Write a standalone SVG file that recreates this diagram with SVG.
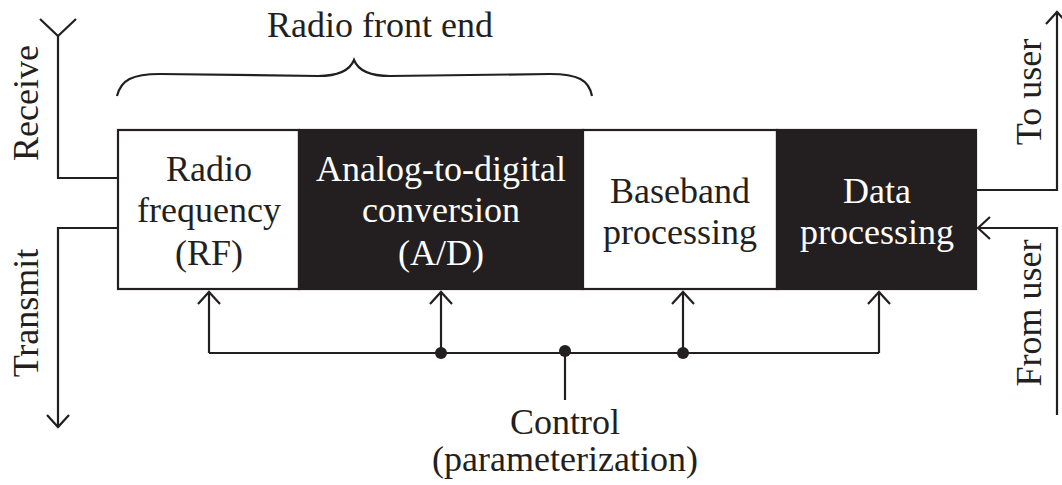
<svg xmlns="http://www.w3.org/2000/svg" width="1062" height="485" viewBox="0 0 1062 485">
<style>
text{font-family:"Liberation Serif","Times New Roman",serif;font-size:36px;fill:#231f20;text-anchor:middle}
.w{fill:#ffffff}
.ln{fill:none;stroke:#231f20;stroke-width:2.2}
</style>
<defs>
<marker id="arr" markerWidth="26" markerHeight="26" refX="13" refY="13" orient="auto" markerUnits="userSpaceOnUse" viewBox="0 0 26 26">
<path d="M1,2 L13,13 L1,24" fill="none" stroke="#231f20" stroke-width="2.2"/>
</marker>
</defs>
<rect width="1062" height="485" fill="#ffffff"/>

<g id="brace">
<path class="ln" d="M117,96 C121,80 132,74 160,74 L318,76 C338,76 350,70 354,60 C358,70 370,76 390,76 L550,74 C578,74 589,80 592,96"/>
<text x="380" y="37">Radio front end</text>
</g>

<g id="rf">
<rect x="118" y="130" width="181" height="159" fill="#ffffff" stroke="#231f20" stroke-width="2.2"/>
<text x="209" y="181">Radio</text>
<text x="209" y="222">frequency</text>
<text x="209" y="265">(RF)</text>
</g>
<g id="ad">
<rect x="299" y="130" width="284" height="159" fill="#231f20" stroke="#231f20" stroke-width="2.2"/>
<text class="w" x="441" y="181">Analog-to-digital</text>
<text class="w" x="441" y="222">conversion</text>
<text class="w" x="441" y="265">(A/D)</text>
</g>
<g id="bb">
<rect x="583" y="130" width="194" height="159" fill="#ffffff" stroke="#231f20" stroke-width="2.2"/>
<text x="680" y="203">Baseband</text>
<text x="680" y="244">processing</text>
</g>
<g id="dp">
<rect x="777" y="130" width="199" height="159" fill="#231f20" stroke="#231f20" stroke-width="2.2"/>
<text class="w" x="877" y="203">Data</text>
<text class="w" x="877" y="244">processing</text>
</g>

<g id="connectors">
<path class="ln" d="M40,19 L58,36 L76,19"/>
<path class="ln" d="M58,36 L58,178 L118,178"/>
<path class="ln" d="M118,228 L58,228 L58,427" marker-end="url(#arr)"/>
<path class="ln" d="M976,190 L1057,190 L1057,12" marker-end="url(#arr)"/>
<path class="ln" d="M1057,415 L1057,228 L978,228" marker-end="url(#arr)"/>
<path class="ln" d="M209,353 L879,353"/>
<path class="ln" d="M209,353 L209,292" marker-end="url(#arr)"/>
<path class="ln" d="M441,353 L441,292" marker-end="url(#arr)"/>
<path class="ln" d="M683,353 L683,292" marker-end="url(#arr)"/>
<path class="ln" d="M879,353 L879,292" marker-end="url(#arr)"/>
<path class="ln" d="M565,353 L565,400"/>
<circle cx="441" cy="353" r="6" fill="#231f20"/>
<circle cx="565" cy="351" r="6" fill="#231f20"/>
<circle cx="683" cy="353" r="6" fill="#231f20"/>
</g>

<g id="labels">
<text transform="translate(38,103) rotate(-90)">Receive</text>
<text transform="translate(38,313) rotate(-90)">Transmit</text>
<text transform="translate(1041,92) rotate(-90)">To user</text>
<text transform="translate(1041,313) rotate(-90)">From user</text>
<text x="565" y="434">Control</text>
<text x="565" y="471">(parameterization)</text>
</g>
</svg>
